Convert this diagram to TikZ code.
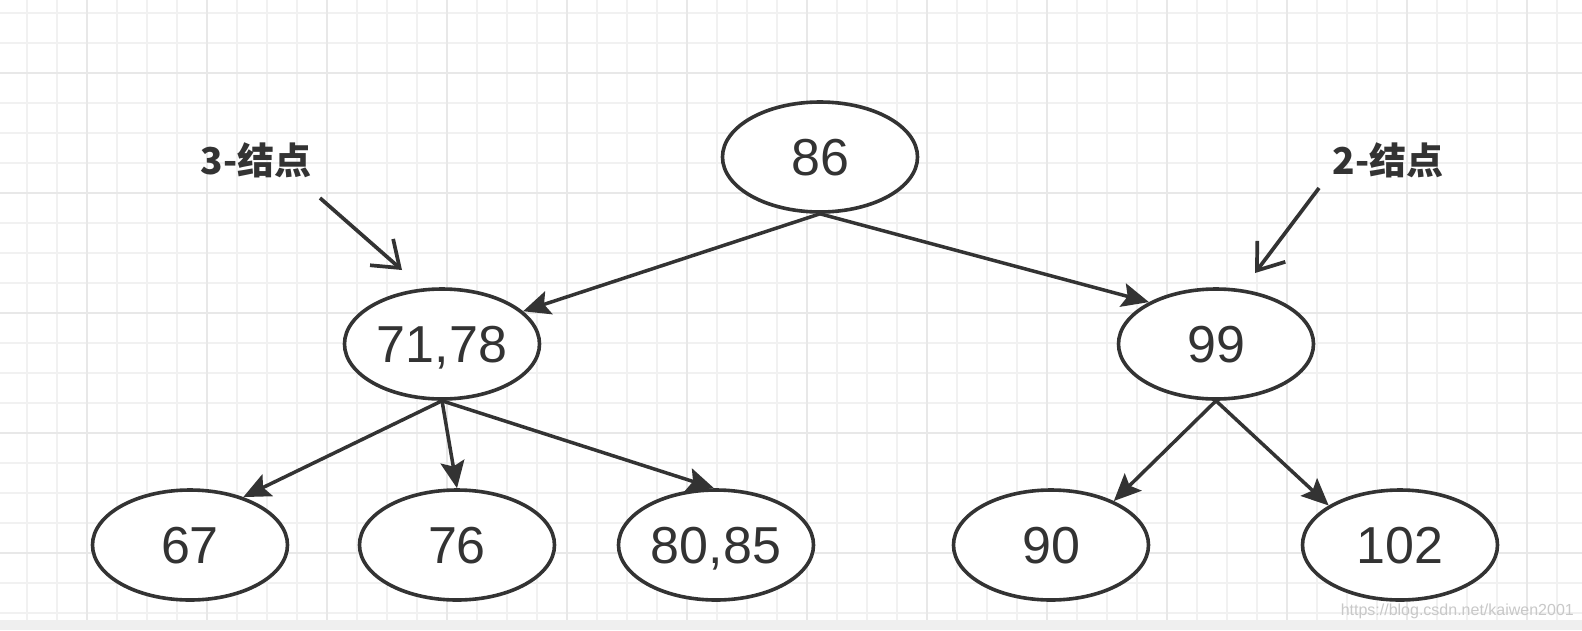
\documentclass[tikz,border=0pt]{standalone}
\usepackage{fontspec}
\setmainfont{Liberation Sans}
\newfontfamily\cjkfont{Noto Sans CJK SC}
\usetikzlibrary{arrows.meta,shapes.geometric}
\definecolor{ink}{HTML}{333333}
\definecolor{gridthin}{HTML}{F1F1F1}
\definecolor{gridthick}{HTML}{E8E8E8}
\definecolor{band}{HTML}{EFEFEF}
\definecolor{wm}{HTML}{C8C8C8}
\begin{document}
\begin{tikzpicture}[x=1pt,y=-1pt,
  treenode/.style={ellipse, draw=ink, fill=white, line width=3.6pt, minimum width=195pt, minimum height=110pt, inner sep=0pt, text=ink, font=\fontsize{52}{60}\selectfont, text height=37.5pt, text depth=0pt},
  edge/.style={draw=ink, line width=3.5pt, -{Stealth[length=27pt,width=24pt,inset=5pt]}},
  pointer/.style={draw=ink, line width=3.7pt, -{Straight Barb[length=24pt,width=35pt]}},
  tag/.style={text=ink, font=\cjkfont\bfseries\fontsize{37}{44}\selectfont, inner sep=0pt},
  thingrid/.style={draw=gridthin, line width=1.3pt},
  thickgrid/.style={draw=gridthick, line width=1.7pt}]
\useasboundingbox (0,0) rectangle (1582,630);
\fill[white] (0,0) rectangle (1582,630);
\foreach \y in {13,43,...,613} \draw[thingrid] (0,\y) -- (1582,\y);
\foreach \x in {27,57,...,1557} \draw[thingrid] (\x,0) -- (\x,620);
\foreach \y in {73,193,313,433,553} \draw[thickgrid] (0,\y) -- (1582,\y);
\foreach \x in {87,207,...,1527} \draw[thickgrid] (\x,0) -- (\x,620);
\fill[band] (0,620) rectangle (1582,630);

\node[treenode] (n86) at (820,157) {86};
\node[treenode] (n7178) at (442,344) {71,78};
\node[treenode] (n99) at (1216,344) {99};
\node[treenode] (n67) at (190,545) {67};
\node[treenode] (n76) at (457,545) {76};
\node[treenode] (n8085) at (716,545) {80,85};
\node[treenode] (n90) at (1051,545) {90};
\node[treenode] (n102) at (1400,545) {102};

\draw[edge] (n86.south) -- (n7178.22);
\draw[edge] (n86.south) -- (n99.148);
\draw[edge] (n7178.south) -- (n67.42);
\draw[edge] (n7178.south) -- (n76.north);
\draw[edge] (n7178.south) -- (n8085.92);
\draw[edge] (n99.south) -- (n90.35);
\draw[edge] (n99.south) -- (n102.151);

\node[tag] (tag3) at (256,160) {3-结点};
\node[tag] (tag2) at (1388,160) {2-结点};
\coordinate (p3s) at (320,198);
\coordinate (p3e) at (402,270);
\coordinate (p2s) at (1319,188);
\coordinate (p2e) at (1255,273);
\draw[pointer] (p3s) -- (p3e);
\draw[pointer] (p2s) -- (p2e);

\node[anchor=base east, text=wm, font=\fontsize{16}{19}\selectfont, inner sep=0pt] (wmark) at (1574,615) {https://blog.csdn.net/kaiwen2001};
\end{tikzpicture}
\end{document}
